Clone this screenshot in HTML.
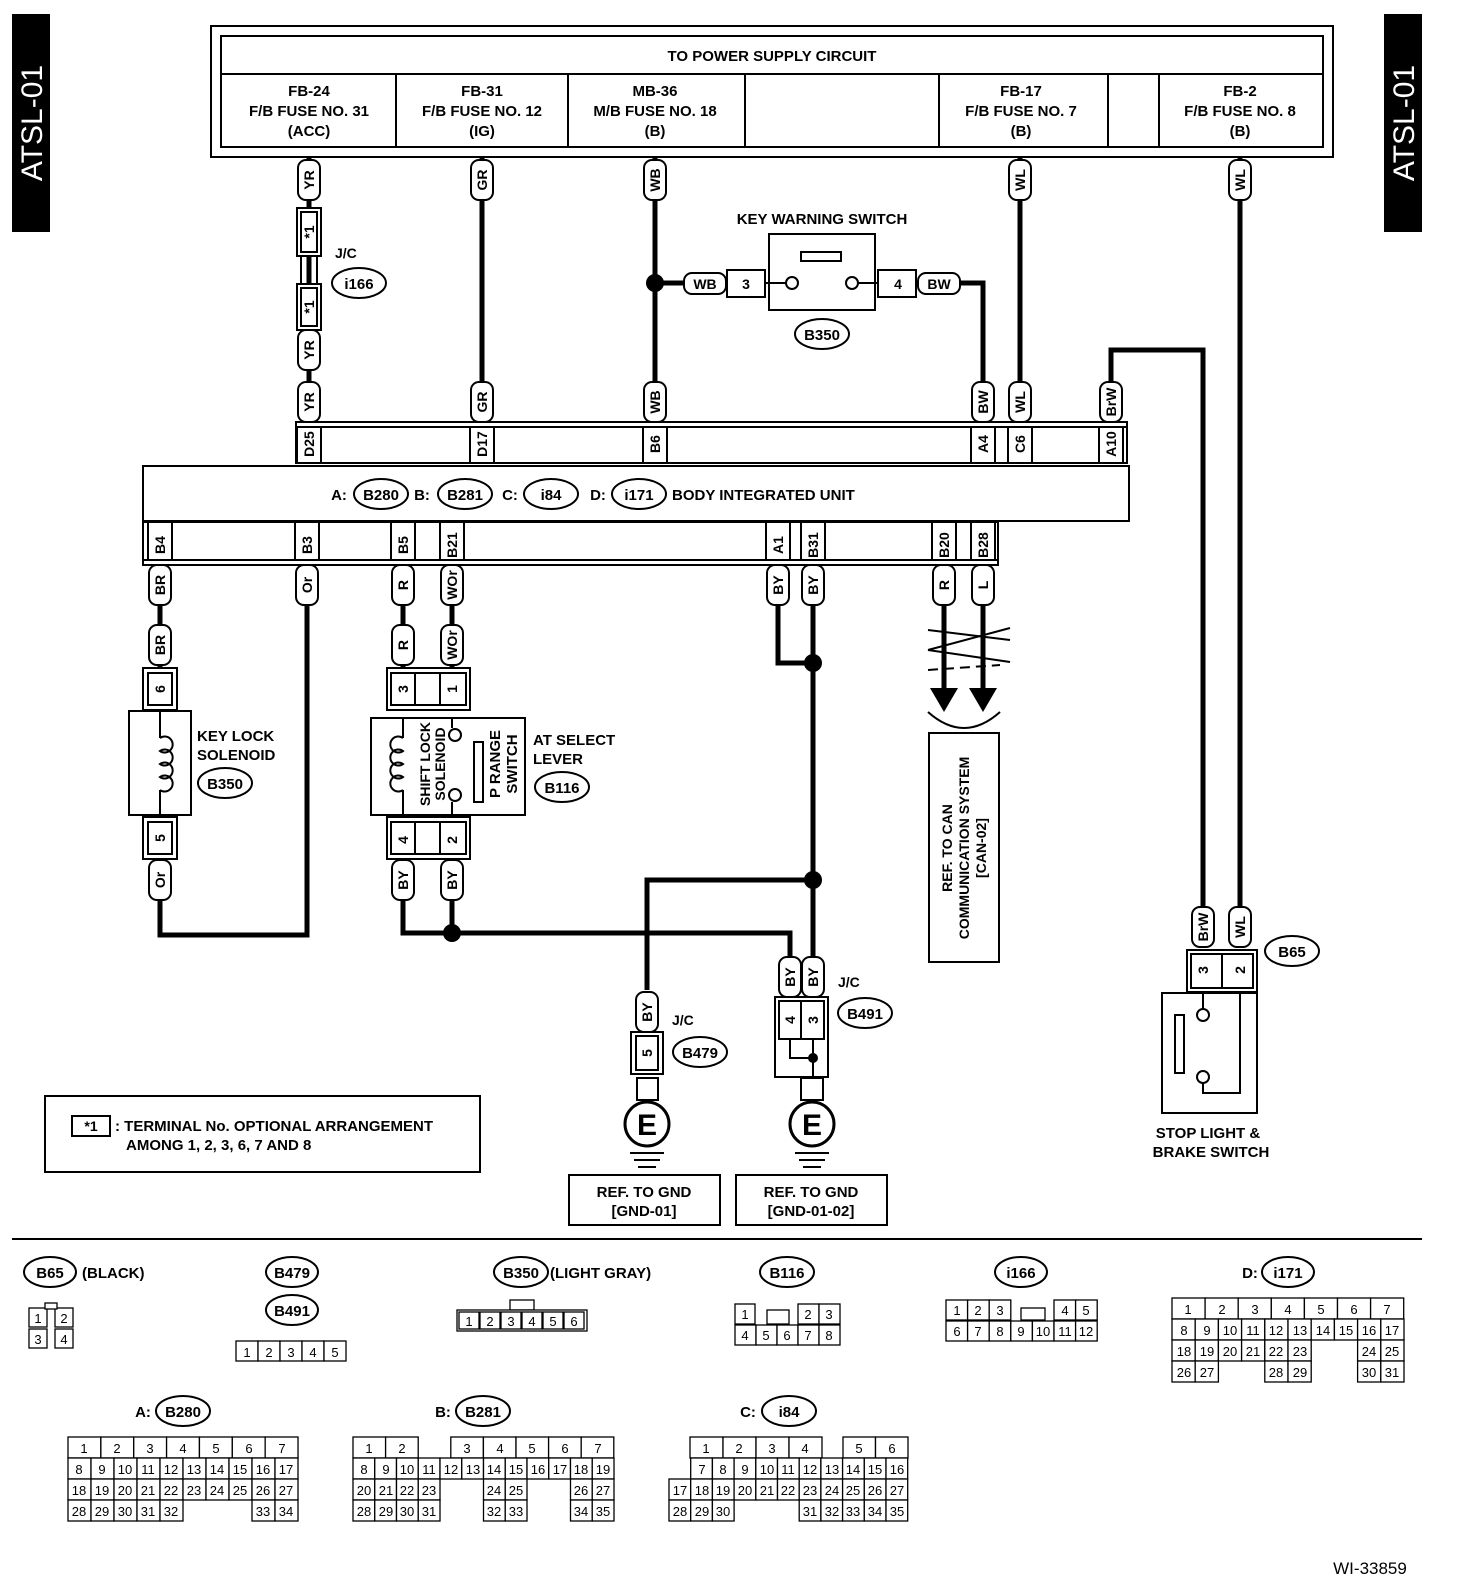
<!DOCTYPE html>
<html><head><meta charset="utf-8"><style>
html,body{margin:0;padding:0;background:#fff;overflow:hidden;width:1472px;height:1586px}
svg{display:block}
text{font-family:"Liberation Sans",sans-serif;font-weight:bold;fill:#000}
.t{font-size:15px;text-anchor:middle}
.s{font-size:14px;text-anchor:middle}
.c{font-size:13px;text-anchor:middle;font-weight:normal}
.b{fill:#fff;stroke:#000;stroke-width:2}
.w{fill:none;stroke:#000;stroke-width:5}
.l{fill:none;stroke:#000;stroke-width:2}
.cell{fill:#fff;stroke:#000;stroke-width:1.3}
</style></head><body>
<svg width="1472" height="1586" viewBox="0 0 1472 1586" xmlns="http://www.w3.org/2000/svg">
<defs>
<g id="tag"><rect x="-11" y="-20" width="22" height="40" rx="8" class="b"/></g>
</defs>
<!-- side tabs -->
<rect x="12" y="14" width="38" height="218" fill="#000"/>
<text transform="translate(42,123) rotate(-90)" style="font-size:30px;fill:#fff;text-anchor:middle;font-weight:normal">ATSL-01</text>
<rect x="1384" y="14" width="38" height="218" fill="#000"/>
<text transform="translate(1414,123) rotate(-90)" style="font-size:30px;fill:#fff;text-anchor:middle;font-weight:normal">ATSL-01</text>

<!-- power supply -->
<rect x="211" y="26" width="1122" height="131" class="b"/>
<rect x="221" y="36" width="1102" height="111" class="b"/>
<line x1="221" y1="74" x2="1323" y2="74" class="l"/>
<g class="l"><line x1="396" y1="74" x2="396" y2="147"/><line x1="568" y1="74" x2="568" y2="147"/><line x1="745" y1="74" x2="745" y2="147"/><line x1="939" y1="74" x2="939" y2="147"/><line x1="1108" y1="74" x2="1108" y2="147"/><line x1="1159" y1="74" x2="1159" y2="147"/></g>
<text x="772" y="61" class="t">TO POWER SUPPLY CIRCUIT</text>
<text x="309" y="96" class="t">FB-24</text><text x="309" y="116" class="t">F/B FUSE NO. 31</text><text x="309" y="136" class="t">(ACC)</text>
<text x="482" y="96" class="t">FB-31</text><text x="482" y="116" class="t">F/B FUSE NO. 12</text><text x="482" y="136" class="t">(IG)</text>
<text x="655" y="96" class="t">MB-36</text><text x="655" y="116" class="t">M/B FUSE NO. 18</text><text x="655" y="136" class="t">(B)</text>
<text x="1021" y="96" class="t">FB-17</text><text x="1021" y="116" class="t">F/B FUSE NO. 7</text><text x="1021" y="136" class="t">(B)</text>
<text x="1240" y="96" class="t">FB-2</text><text x="1240" y="116" class="t">F/B FUSE NO. 8</text><text x="1240" y="136" class="t">(B)</text>

<!-- wires top -->
<g class="w">
<line x1="309" y1="157" x2="309" y2="422"/>
<line x1="482" y1="157" x2="482" y2="422"/>
<line x1="655" y1="157" x2="655" y2="422"/>
<line x1="1020" y1="157" x2="1020" y2="422"/>
<polyline points="1240,157 1240,930"/>
<polyline points="1111,422 1111,350 1203,350 1203,930"/>
<line x1="655" y1="283" x2="690" y2="283"/>
<polyline points="950,283 983,283 983,422"/>
</g>
<circle cx="655" cy="283" r="9"/>
<!-- J/C i166 -->
<rect x="297" y="208" width="24" height="48" class="b"/><rect x="301" y="212" width="16" height="40" class="b"/>
<text transform="translate(314,232) rotate(-90)" class="s">*1</text>
<line x1="301" y1="256" x2="301" y2="284" class="l"/><line x1="317" y1="256" x2="317" y2="284" class="l"/>
<rect x="297" y="284" width="24" height="46" class="b"/><rect x="301" y="288" width="16" height="38" class="b"/>
<text transform="translate(314,307) rotate(-90)" class="s">*1</text>
<text x="335" y="258" class="s" style="text-anchor:start">J/C</text>
<ellipse cx="359" cy="283" rx="27" ry="15" class="b"/><text x="359" y="289" class="t">i166</text>

<!-- tags top -->
<g>
<use href="#tag" x="309" y="180"/><text transform="translate(314,180) rotate(-90)" class="s">YR</text>
<use href="#tag" x="482" y="180"/><text transform="translate(487,180) rotate(-90)" class="s">GR</text>
<use href="#tag" x="655" y="180"/><text transform="translate(660,180) rotate(-90)" class="s">WB</text>
<use href="#tag" x="1020" y="180"/><text transform="translate(1025,180) rotate(-90)" class="s">WL</text>
<use href="#tag" x="1240" y="180"/><text transform="translate(1245,180) rotate(-90)" class="s">WL</text>
<use href="#tag" x="309" y="350"/><text transform="translate(314,350) rotate(-90)" class="s">YR</text>
<use href="#tag" x="309" y="402"/><text transform="translate(314,402) rotate(-90)" class="s">YR</text>
<use href="#tag" x="482" y="402"/><text transform="translate(487,402) rotate(-90)" class="s">GR</text>
<use href="#tag" x="655" y="402"/><text transform="translate(660,402) rotate(-90)" class="s">WB</text>
<use href="#tag" x="983" y="402"/><text transform="translate(988,402) rotate(-90)" class="s">BW</text>
<use href="#tag" x="1020" y="402"/><text transform="translate(1025,402) rotate(-90)" class="s">WL</text>
<use href="#tag" x="1111" y="402"/><text transform="translate(1116,402) rotate(-90)" class="s">BrW</text>
</g>
<!-- key warning switch -->
<text x="822" y="224" class="t">KEY WARNING SWITCH</text>
<rect x="684" y="273" width="42" height="21" rx="8" class="b"/><text x="705" y="289" class="s">WB</text>
<rect x="727" y="270" width="38" height="27" class="b"/><text x="746" y="289" class="s">3</text>
<rect x="769" y="234" width="106" height="76" class="b"/>
<rect x="801" y="252" width="40" height="9" class="b"/>
<circle cx="792" cy="283" r="6" class="b"/><circle cx="852" cy="283" r="6" class="b"/>
<line x1="765" y1="283" x2="786" y2="283" class="l"/><line x1="858" y1="283" x2="878" y2="283" class="l"/>
<rect x="878" y="270" width="38" height="27" class="b"/><text x="898" y="289" class="s">4</text>
<rect x="918" y="273" width="42" height="21" rx="8" class="b"/><text x="939" y="289" class="s">BW</text>
<ellipse cx="822" cy="334" rx="27" ry="15" class="b"/><text x="822" y="340" class="t">B350</text>

<!-- BIU -->
<rect x="296" y="422" width="831" height="41" class="b"/>
<line x1="296" y1="427" x2="1127" y2="427" class="l"/>
<g class="l">
<line x1="297" y1="427" x2="297" y2="463"/><line x1="321" y1="427" x2="321" y2="463"/>
<line x1="470" y1="427" x2="470" y2="463"/><line x1="494" y1="427" x2="494" y2="463"/>
<line x1="643" y1="427" x2="643" y2="463"/><line x1="667" y1="427" x2="667" y2="463"/>
<line x1="971" y1="427" x2="971" y2="463"/><line x1="995" y1="427" x2="995" y2="463"/>
<line x1="1008" y1="427" x2="1008" y2="463"/><line x1="1032" y1="427" x2="1032" y2="463"/>
<line x1="1099" y1="427" x2="1099" y2="463"/><line x1="1123" y1="427" x2="1123" y2="463"/>
</g>
<text transform="translate(314,444) rotate(-90)" class="s">D25</text>
<text transform="translate(487,444) rotate(-90)" class="s">D17</text>
<text transform="translate(660,444) rotate(-90)" class="s">B6</text>
<text transform="translate(988,444) rotate(-90)" class="s">A4</text>
<text transform="translate(1025,444) rotate(-90)" class="s">C6</text>
<text transform="translate(1116,444) rotate(-90)" class="s">A10</text>
<rect x="143" y="466" width="986" height="55" class="b"/>
<text x="339" y="500" class="t">A:</text><ellipse cx="381" cy="494" rx="27" ry="15" class="b"/><text x="381" y="500" class="t">B280</text>
<text x="422" y="500" class="t">B:</text><ellipse cx="465" cy="494" rx="27" ry="15" class="b"/><text x="465" y="500" class="t">B281</text>
<text x="510" y="500" class="t">C:</text><ellipse cx="551" cy="494" rx="27" ry="15" class="b"/><text x="551" y="500" class="t">i84</text>
<text x="598" y="500" class="t">D:</text><ellipse cx="639" cy="494" rx="27" ry="15" class="b"/><text x="639" y="500" class="t">i171</text>
<text x="672" y="500" class="t" style="text-anchor:start">BODY INTEGRATED UNIT</text>
<rect x="143" y="522" width="855" height="43" class="b"/>
<line x1="143" y1="560" x2="998" y2="560" class="l"/>
<g class="l">
<line x1="148" y1="522" x2="148" y2="560"/><line x1="172" y1="522" x2="172" y2="560"/>
<line x1="295" y1="522" x2="295" y2="560"/><line x1="319" y1="522" x2="319" y2="560"/>
<line x1="391" y1="522" x2="391" y2="560"/><line x1="415" y1="522" x2="415" y2="560"/>
<line x1="440" y1="522" x2="440" y2="560"/><line x1="464" y1="522" x2="464" y2="560"/>
<line x1="766" y1="522" x2="766" y2="560"/><line x1="790" y1="522" x2="790" y2="560"/>
<line x1="801" y1="522" x2="801" y2="560"/><line x1="825" y1="522" x2="825" y2="560"/>
<line x1="932" y1="522" x2="932" y2="560"/><line x1="956" y1="522" x2="956" y2="560"/>
<line x1="971" y1="522" x2="971" y2="560"/><line x1="995" y1="522" x2="995" y2="560"/>
</g>
<text transform="translate(165,545) rotate(-90)" class="s">B4</text>
<text transform="translate(312,545) rotate(-90)" class="s">B3</text>
<text transform="translate(408,545) rotate(-90)" class="s">B5</text>
<text transform="translate(457,545) rotate(-90)" class="s">B21</text>
<text transform="translate(783,545) rotate(-90)" class="s">A1</text>
<text transform="translate(818,545) rotate(-90)" class="s">B31</text>
<text transform="translate(949,545) rotate(-90)" class="s">B20</text>
<text transform="translate(988,545) rotate(-90)" class="s">B28</text>

<!-- lower wires -->
<g class="w">
<line x1="160" y1="565" x2="160" y2="670"/>
<polyline points="160,858 160,935 307,935 307,565"/>
<line x1="403" y1="565" x2="403" y2="670"/>
<line x1="452" y1="565" x2="452" y2="670"/>
<polyline points="403,858 403,933 790,933 790,960"/>
<line x1="452" y1="858" x2="452" y2="933"/>
<polyline points="778,565 778,663 813,663"/>
<line x1="813" y1="565" x2="813" y2="960"/>
<polyline points="813,880 647,880 647,990"/>
<line x1="944" y1="565" x2="944" y2="690"/>
<line x1="983" y1="565" x2="983" y2="690"/>
</g>
<circle cx="452" cy="933" r="9"/><circle cx="813" cy="663" r="9"/><circle cx="813" cy="880" r="9"/>

<!-- lower tags -->
<g>
<use href="#tag" x="160" y="585"/><text transform="translate(165,585) rotate(-90)" class="s">BR</text>
<use href="#tag" x="307" y="585"/><text transform="translate(312,585) rotate(-90)" class="s">Or</text>
<use href="#tag" x="403" y="585"/><text transform="translate(408,585) rotate(-90)" class="s">R</text>
<use href="#tag" x="452" y="585"/><text transform="translate(457,585) rotate(-90)" class="s">WOr</text>
<use href="#tag" x="778" y="585"/><text transform="translate(783,585) rotate(-90)" class="s">BY</text>
<use href="#tag" x="813" y="585"/><text transform="translate(818,585) rotate(-90)" class="s">BY</text>
<use href="#tag" x="944" y="585"/><text transform="translate(949,585) rotate(-90)" class="s">R</text>
<use href="#tag" x="983" y="585"/><text transform="translate(988,585) rotate(-90)" class="s">L</text>
<use href="#tag" x="160" y="645"/><text transform="translate(165,645) rotate(-90)" class="s">BR</text>
<use href="#tag" x="403" y="645"/><text transform="translate(408,645) rotate(-90)" class="s">R</text>
<use href="#tag" x="452" y="645"/><text transform="translate(457,645) rotate(-90)" class="s">WOr</text>
<use href="#tag" x="160" y="880"/><text transform="translate(165,880) rotate(-90)" class="s">Or</text>
<use href="#tag" x="403" y="880"/><text transform="translate(408,880) rotate(-90)" class="s">BY</text>
<use href="#tag" x="452" y="880"/><text transform="translate(457,880) rotate(-90)" class="s">BY</text>
<use href="#tag" x="647" y="1012"/><text transform="translate(652,1012) rotate(-90)" class="s">BY</text>
<use href="#tag" x="790" y="977"/><text transform="translate(795,977) rotate(-90)" class="s">BY</text>
<use href="#tag" x="813" y="977"/><text transform="translate(818,977) rotate(-90)" class="s">BY</text>
<use href="#tag" x="1203" y="927"/><text transform="translate(1208,927) rotate(-90)" class="s">BrW</text>
<use href="#tag" x="1240" y="927"/><text transform="translate(1245,927) rotate(-90)" class="s">WL</text>
</g>

<!-- key lock solenoid -->
<rect x="143" y="668" width="34" height="42" class="b"/><rect x="148" y="673" width="24" height="32" class="b"/>
<text transform="translate(165,689) rotate(-90)" class="s">6</text>
<rect x="129" y="711" width="62" height="104" class="b"/>
<path d="M160,711 V738 M160,790 V815" class="l"/>
<path d="M160,738 a8,8 0 1 1 0,13 a8,8 0 1 1 0,13 a8,8 0 1 1 0,13 a8,8 0 1 1 0,13" class="l"/>
<rect x="143" y="817" width="34" height="42" class="b"/><rect x="148" y="822" width="24" height="32" class="b"/>
<text transform="translate(165,838) rotate(-90)" class="s">5</text>
<text x="197" y="741" class="t" style="text-anchor:start">KEY LOCK</text>
<text x="197" y="760" class="t" style="text-anchor:start">SOLENOID</text>
<ellipse cx="225" cy="783" rx="27" ry="15" class="b"/><text x="225" y="789" class="t">B350</text>

<!-- AT select lever -->
<rect x="387" y="668" width="83" height="42" class="b"/><rect x="391" y="673" width="75" height="32" class="b"/>
<line x1="415" y1="673" x2="415" y2="705" class="l"/><line x1="440" y1="673" x2="440" y2="705" class="l"/>
<text transform="translate(408,689) rotate(-90)" class="s">3</text><text transform="translate(457,689) rotate(-90)" class="s">1</text>
<rect x="371" y="718" width="154" height="97" class="b"/>
<path d="M403,718 V738 M403,790 V815" class="l"/>
<path d="M403,738 a8,8 0 1 0 0,13 a8,8 0 1 0 0,13 a8,8 0 1 0 0,13 a8,8 0 1 0 0,13" class="l"/>
<path d="M452,718 V728 M452,802 V815" class="l"/>
<circle cx="455" cy="735" r="6" class="b"/><circle cx="455" cy="795" r="6" class="b"/>
<rect x="474" y="742" width="9" height="60" class="b"/>
<text transform="translate(430,764) rotate(-90)" style="font-size:14px;text-anchor:middle">SHIFT LOCK</text>
<text transform="translate(445,764) rotate(-90)" style="font-size:14px;text-anchor:middle">SOLENOID</text>
<text transform="translate(500,764) rotate(-90)" style="font-size:15px;text-anchor:middle">P RANGE</text>
<text transform="translate(517,764) rotate(-90)" style="font-size:15px;text-anchor:middle">SWITCH</text>
<rect x="387" y="817" width="83" height="42" class="b"/><rect x="391" y="822" width="75" height="32" class="b"/>
<line x1="415" y1="822" x2="415" y2="854" class="l"/><line x1="440" y1="822" x2="440" y2="854" class="l"/>
<text transform="translate(408,840) rotate(-90)" class="s">4</text><text transform="translate(457,840) rotate(-90)" class="s">2</text>
<text x="533" y="745" class="t" style="text-anchor:start">AT SELECT</text>
<text x="533" y="764" class="t" style="text-anchor:start">LEVER</text>
<ellipse cx="562" cy="787" rx="27" ry="15" class="b"/><text x="562" y="793" class="t">B116</text>

<!-- CAN -->
<g class="l">
<line x1="928" y1="630" x2="1010" y2="640"/><line x1="928" y1="650" x2="1010" y2="628"/><line x1="928" y1="650" x2="1010" y2="662"/>
<line x1="928" y1="670" x2="1000" y2="665" stroke-dasharray="10,6"/>
<path d="M928,712 Q964,744 1000,712"/>
</g>
<polygon points="930,688 958,688 944,712"/><polygon points="969,688 997,688 983,712"/>
<rect x="929" y="733" width="70" height="229" class="b"/>
<text transform="translate(952,848) rotate(-90)" style="font-size:14px;text-anchor:middle">REF. TO CAN</text>
<text transform="translate(969,848) rotate(-90)" style="font-size:14px;text-anchor:middle">COMMUNICATION SYSTEM</text>
<text transform="translate(986,848) rotate(-90)" style="font-size:14px;text-anchor:middle">[CAN-02]</text>

<!-- B479 -->
<rect x="631" y="1032" width="32" height="42" class="b"/><rect x="636" y="1036" width="22" height="34" class="b"/>
<text transform="translate(652,1053) rotate(-90)" class="s">5</text>
<rect x="637" y="1078" width="21" height="22" class="b"/>
<line x1="647" y1="1100" x2="647" y2="1102" class="l"/>
<circle cx="647" cy="1124" r="22" class="b" style="stroke-width:3"/>
<text x="647" y="1135" style="font-size:30px;text-anchor:middle">E</text>
<g class="l"><line x1="630" y1="1153" x2="664" y2="1153"/><line x1="634" y1="1160" x2="660" y2="1160"/><line x1="638" y1="1167" x2="656" y2="1167"/></g>
<text x="672" y="1025" class="s" style="text-anchor:start">J/C</text>
<ellipse cx="700" cy="1052" rx="27" ry="15" class="b"/><text x="700" y="1058" class="t">B479</text>
<!-- B491 -->
<rect x="775" y="997" width="53" height="80" class="b"/>
<rect x="779" y="1001" width="45" height="38" class="b"/><line x1="801" y1="1001" x2="801" y2="1039" class="l"/>
<text transform="translate(795,1020) rotate(-90)" class="s">4</text><text transform="translate(818,1020) rotate(-90)" class="s">3</text>
<polyline points="790,1039 790,1058 813,1058" class="l"/><line x1="813" y1="1039" x2="813" y2="1078" class="l"/>
<circle cx="813" cy="1058" r="5"/>
<rect x="801" y="1078" width="22" height="22" class="b"/>
<circle cx="812" cy="1124" r="22" class="b" style="stroke-width:3"/>
<text x="812" y="1135" style="font-size:30px;text-anchor:middle">E</text>
<g class="l"><line x1="795" y1="1153" x2="829" y2="1153"/><line x1="799" y1="1160" x2="825" y2="1160"/><line x1="803" y1="1167" x2="821" y2="1167"/></g>
<text x="838" y="987" class="s" style="text-anchor:start">J/C</text>
<ellipse cx="865" cy="1013" rx="27" ry="15" class="b"/><text x="865" y="1019" class="t">B491</text>
<rect x="569" y="1175" width="151" height="50" class="b"/>
<text x="644" y="1197" class="t">REF. TO GND</text><text x="644" y="1216" class="t">[GND-01]</text>
<rect x="736" y="1175" width="151" height="50" class="b"/>
<text x="811" y="1197" class="t">REF. TO GND</text><text x="811" y="1216" class="t">[GND-01-02]</text>

<!-- stop light -->
<rect x="1187" y="950" width="70" height="42" class="b"/><rect x="1191" y="954" width="62" height="34" class="b"/>
<line x1="1222" y1="954" x2="1222" y2="988" class="l"/>
<text transform="translate(1208,970) rotate(-90)" class="s">3</text><text transform="translate(1245,970) rotate(-90)" class="s">2</text>
<rect x="1162" y="993" width="95" height="120" class="b"/>
<rect x="1175" y="1015" width="9" height="58" class="b"/>
<path d="M1203,993 V1010 M1240,993 V1093 H1203 V1082" class="l"/>
<circle cx="1203" cy="1015" r="6" class="b"/><circle cx="1203" cy="1077" r="6" class="b"/>
<ellipse cx="1292" cy="951" rx="27" ry="15" class="b"/><text x="1292" y="957" class="t">B65</text>
<text x="1208" y="1138" class="t">STOP LIGHT &amp;</text><text x="1211" y="1157" class="t">BRAKE SWITCH</text>

<!-- note -->
<rect x="45" y="1096" width="435" height="76" class="b"/>
<rect x="72" y="1116" width="38" height="20" class="b"/><text x="91" y="1131" class="s">*1</text>
<text x="115" y="1131" class="t" style="text-anchor:start">: TERMINAL No. OPTIONAL ARRANGEMENT</text>
<text x="126" y="1150" class="t" style="text-anchor:start">AMONG 1, 2, 3, 6, 7 AND 8</text>

<line x1="12" y1="1239" x2="1422" y2="1239" class="l"/>

<!-- connector legends -->
<ellipse cx="50" cy="1272" rx="26" ry="15" class="b"/><text x="50" y="1278" class="t">B65</text>
<text x="82" y="1278" class="t" style="text-anchor:start">(BLACK)</text>
<g>
<rect x="29" y="1308" width="18" height="19" class="cell"/><text x="38" y="1323" class="c">1</text>
<rect x="55" y="1308" width="18" height="19" class="cell"/><text x="64" y="1323" class="c">2</text>
<rect x="29" y="1329" width="18" height="19" class="cell"/><text x="38" y="1344" class="c">3</text>
<rect x="55" y="1329" width="18" height="19" class="cell"/><text x="64" y="1344" class="c">4</text>
<rect x="45" y="1303" width="12" height="6" class="cell"/>
</g>
<ellipse cx="292" cy="1272" rx="26" ry="15" class="b"/><text x="292" y="1278" class="t">B479</text>
<ellipse cx="292" cy="1310" rx="26" ry="15" class="b"/><text x="292" y="1316" class="t">B491</text>
<g>
<rect x="236" y="1341" width="22" height="20" class="cell"/><text x="247" y="1357" class="c">1</text>
<rect x="258" y="1341" width="22" height="20" class="cell"/><text x="269" y="1357" class="c">2</text>
<rect x="280" y="1341" width="22" height="20" class="cell"/><text x="291" y="1357" class="c">3</text>
<rect x="302" y="1341" width="22" height="20" class="cell"/><text x="313" y="1357" class="c">4</text>
<rect x="324" y="1341" width="22" height="20" class="cell"/><text x="335" y="1357" class="c">5</text>
</g>
<ellipse cx="521" cy="1272" rx="27" ry="15" class="b"/><text x="521" y="1278" class="t">B350</text>
<text x="550" y="1278" class="t" style="text-anchor:start">(LIGHT GRAY)</text>
<g>
<rect x="510" y="1300" width="24" height="10" class="cell"/>
<rect x="457" y="1310" width="130" height="21" class="cell"/>
<rect x="459" y="1312" width="20" height="17" class="cell"/><text x="469" y="1326" class="c">1</text>
<rect x="480" y="1312" width="20" height="17" class="cell"/><text x="490" y="1326" class="c">2</text>
<rect x="501" y="1312" width="20" height="17" class="cell"/><text x="511" y="1326" class="c">3</text>
<rect x="522" y="1312" width="20" height="17" class="cell"/><text x="532" y="1326" class="c">4</text>
<rect x="543" y="1312" width="20" height="17" class="cell"/><text x="553" y="1326" class="c">5</text>
<rect x="564" y="1312" width="20" height="17" class="cell"/><text x="574" y="1326" class="c">6</text>
</g>
<ellipse cx="787" cy="1272" rx="27" ry="15" class="b"/><text x="787" y="1278" class="t">B116</text>
<g>
<rect x="735" y="1304" width="20" height="20" class="cell"/><text x="745" y="1319" class="c">1</text>
<rect x="767" y="1310" width="22" height="14" class="cell"/>
<rect x="798" y="1304" width="21" height="20" class="cell"/><text x="808" y="1319" class="c">2</text>
<rect x="819" y="1304" width="21" height="20" class="cell"/><text x="829" y="1319" class="c">3</text>
<rect x="735" y="1325" width="21" height="20" class="cell"/><text x="745" y="1340" class="c">4</text>
<rect x="756" y="1325" width="21" height="20" class="cell"/><text x="766" y="1340" class="c">5</text>
<rect x="777" y="1325" width="21" height="20" class="cell"/><text x="787" y="1340" class="c">6</text>
<rect x="798" y="1325" width="21" height="20" class="cell"/><text x="808" y="1340" class="c">7</text>
<rect x="819" y="1325" width="21" height="20" class="cell"/><text x="829" y="1340" class="c">8</text>
</g>
<ellipse cx="1021" cy="1272" rx="26" ry="15" class="b"/><text x="1021" y="1278" class="t">i166</text>
<g>
<rect x="946" y="1300" width="21.6" height="20" class="cell"/><text x="957" y="1315" class="c">1</text>
<rect x="967.6" y="1300" width="21.6" height="20" class="cell"/><text x="978" y="1315" class="c">2</text>
<rect x="989.2" y="1300" width="21.6" height="20" class="cell"/><text x="1000" y="1315" class="c">3</text>
<rect x="1021" y="1308" width="24" height="12" class="cell"/>
<rect x="1054" y="1300" width="21.6" height="20" class="cell"/><text x="1065" y="1315" class="c">4</text>
<rect x="1075.6" y="1300" width="21.6" height="20" class="cell"/><text x="1086" y="1315" class="c">5</text>
<rect x="946" y="1321" width="21.6" height="20" class="cell"/><text x="957" y="1336" class="c">6</text>
<rect x="967.6" y="1321" width="21.6" height="20" class="cell"/><text x="978" y="1336" class="c">7</text>
<rect x="989.2" y="1321" width="21.6" height="20" class="cell"/><text x="1000" y="1336" class="c">8</text>
<rect x="1010.8" y="1321" width="21.6" height="20" class="cell"/><text x="1021" y="1336" class="c">9</text>
<rect x="1032.4" y="1321" width="21.6" height="20" class="cell"/><text x="1043" y="1336" class="c">10</text>
<rect x="1054" y="1321" width="21.6" height="20" class="cell"/><text x="1065" y="1336" class="c">11</text>
<rect x="1075.6" y="1321" width="21.6" height="20" class="cell"/><text x="1086" y="1336" class="c">12</text>
</g>
<text x="1250" y="1278" class="t">D:</text>
<ellipse cx="1288" cy="1272" rx="26" ry="15" class="b"/><text x="1288" y="1278" class="t">i171</text>
<g>
<rect x="1172" y="1298" width="33.1" height="21" class="cell"/><text x="1188" y="1314" class="c">1</text>
<rect x="1205.1" y="1298" width="33.1" height="21" class="cell"/><text x="1222" y="1314" class="c">2</text>
<rect x="1238.2" y="1298" width="33.1" height="21" class="cell"/><text x="1255" y="1314" class="c">3</text>
<rect x="1271.3" y="1298" width="33.1" height="21" class="cell"/><text x="1288" y="1314" class="c">4</text>
<rect x="1304.4" y="1298" width="33.1" height="21" class="cell"/><text x="1321" y="1314" class="c">5</text>
<rect x="1337.5" y="1298" width="33.1" height="21" class="cell"/><text x="1354" y="1314" class="c">6</text>
<rect x="1370.6" y="1298" width="33.1" height="21" class="cell"/><text x="1387" y="1314" class="c">7</text>
<rect x="1172" y="1319" width="23.2" height="21" class="cell"/><text x="1184" y="1335" class="c">8</text>
<rect x="1195.2" y="1319" width="23.2" height="21" class="cell"/><text x="1207" y="1335" class="c">9</text>
<rect x="1218.4" y="1319" width="23.2" height="21" class="cell"/><text x="1230" y="1335" class="c">10</text>
<rect x="1241.6" y="1319" width="23.2" height="21" class="cell"/><text x="1253" y="1335" class="c">11</text>
<rect x="1264.8" y="1319" width="23.2" height="21" class="cell"/><text x="1276" y="1335" class="c">12</text>
<rect x="1288" y="1319" width="23.2" height="21" class="cell"/><text x="1300" y="1335" class="c">13</text>
<rect x="1311.2" y="1319" width="23.2" height="21" class="cell"/><text x="1323" y="1335" class="c">14</text>
<rect x="1334.4" y="1319" width="23.2" height="21" class="cell"/><text x="1346" y="1335" class="c">15</text>
<rect x="1357.6" y="1319" width="23.2" height="21" class="cell"/><text x="1369" y="1335" class="c">16</text>
<rect x="1380.8" y="1319" width="23.2" height="21" class="cell"/><text x="1392" y="1335" class="c">17</text>
<rect x="1172" y="1340" width="23.2" height="21" class="cell"/><text x="1184" y="1356" class="c">18</text>
<rect x="1195.2" y="1340" width="23.2" height="21" class="cell"/><text x="1207" y="1356" class="c">19</text>
<rect x="1218.4" y="1340" width="23.2" height="21" class="cell"/><text x="1230" y="1356" class="c">20</text>
<rect x="1241.6" y="1340" width="23.2" height="21" class="cell"/><text x="1253" y="1356" class="c">21</text>
<rect x="1264.8" y="1340" width="23.2" height="21" class="cell"/><text x="1276" y="1356" class="c">22</text>
<rect x="1288" y="1340" width="23.2" height="21" class="cell"/><text x="1300" y="1356" class="c">23</text>
<rect x="1357.6" y="1340" width="23.2" height="21" class="cell"/><text x="1369" y="1356" class="c">24</text>
<rect x="1380.8" y="1340" width="23.2" height="21" class="cell"/><text x="1392" y="1356" class="c">25</text>
<rect x="1172" y="1361" width="23.2" height="21" class="cell"/><text x="1184" y="1377" class="c">26</text>
<rect x="1195.2" y="1361" width="23.2" height="21" class="cell"/><text x="1207" y="1377" class="c">27</text>
<rect x="1264.8" y="1361" width="23.2" height="21" class="cell"/><text x="1276" y="1377" class="c">28</text>
<rect x="1288" y="1361" width="23.2" height="21" class="cell"/><text x="1300" y="1377" class="c">29</text>
<rect x="1357.6" y="1361" width="23.2" height="21" class="cell"/><text x="1369" y="1377" class="c">30</text>
<rect x="1380.8" y="1361" width="23.2" height="21" class="cell"/><text x="1392" y="1377" class="c">31</text>
</g>

<!-- A: B280 -->
<text x="143" y="1417" class="t">A:</text>
<ellipse cx="183" cy="1411" rx="27" ry="15" class="b"/><text x="183" y="1417" class="t">B280</text>
<g>
<rect x="68" y="1437" width="32.86" height="21" class="cell"/><text x="84" y="1453" class="c">1</text>
<rect x="100.86" y="1437" width="32.86" height="21" class="cell"/><text x="117" y="1453" class="c">2</text>
<rect x="133.72" y="1437" width="32.86" height="21" class="cell"/><text x="150" y="1453" class="c">3</text>
<rect x="166.58" y="1437" width="32.86" height="21" class="cell"/><text x="183" y="1453" class="c">4</text>
<rect x="199.44" y="1437" width="32.86" height="21" class="cell"/><text x="216" y="1453" class="c">5</text>
<rect x="232.3" y="1437" width="32.86" height="21" class="cell"/><text x="249" y="1453" class="c">6</text>
<rect x="265.16" y="1437" width="32.86" height="21" class="cell"/><text x="282" y="1453" class="c">7</text>
<rect x="68" y="1458" width="23" height="21" class="cell"/><text x="79" y="1474" class="c">8</text>
<rect x="91" y="1458" width="23" height="21" class="cell"/><text x="102" y="1474" class="c">9</text>
<rect x="114" y="1458" width="23" height="21" class="cell"/><text x="125" y="1474" class="c">10</text>
<rect x="137" y="1458" width="23" height="21" class="cell"/><text x="148" y="1474" class="c">11</text>
<rect x="160" y="1458" width="23" height="21" class="cell"/><text x="171" y="1474" class="c">12</text>
<rect x="183" y="1458" width="23" height="21" class="cell"/><text x="194" y="1474" class="c">13</text>
<rect x="206" y="1458" width="23" height="21" class="cell"/><text x="217" y="1474" class="c">14</text>
<rect x="229" y="1458" width="23" height="21" class="cell"/><text x="240" y="1474" class="c">15</text>
<rect x="252" y="1458" width="23" height="21" class="cell"/><text x="263" y="1474" class="c">16</text>
<rect x="275" y="1458" width="23" height="21" class="cell"/><text x="286" y="1474" class="c">17</text>
<rect x="68" y="1479" width="23" height="21" class="cell"/><text x="79" y="1495" class="c">18</text>
<rect x="91" y="1479" width="23" height="21" class="cell"/><text x="102" y="1495" class="c">19</text>
<rect x="114" y="1479" width="23" height="21" class="cell"/><text x="125" y="1495" class="c">20</text>
<rect x="137" y="1479" width="23" height="21" class="cell"/><text x="148" y="1495" class="c">21</text>
<rect x="160" y="1479" width="23" height="21" class="cell"/><text x="171" y="1495" class="c">22</text>
<rect x="183" y="1479" width="23" height="21" class="cell"/><text x="194" y="1495" class="c">23</text>
<rect x="206" y="1479" width="23" height="21" class="cell"/><text x="217" y="1495" class="c">24</text>
<rect x="229" y="1479" width="23" height="21" class="cell"/><text x="240" y="1495" class="c">25</text>
<rect x="252" y="1479" width="23" height="21" class="cell"/><text x="263" y="1495" class="c">26</text>
<rect x="275" y="1479" width="23" height="21" class="cell"/><text x="286" y="1495" class="c">27</text>
<rect x="68" y="1500" width="23" height="21" class="cell"/><text x="79" y="1516" class="c">28</text>
<rect x="91" y="1500" width="23" height="21" class="cell"/><text x="102" y="1516" class="c">29</text>
<rect x="114" y="1500" width="23" height="21" class="cell"/><text x="125" y="1516" class="c">30</text>
<rect x="137" y="1500" width="23" height="21" class="cell"/><text x="148" y="1516" class="c">31</text>
<rect x="160" y="1500" width="23" height="21" class="cell"/><text x="171" y="1516" class="c">32</text>
<rect x="252" y="1500" width="23" height="21" class="cell"/><text x="263" y="1516" class="c">33</text>
<rect x="275" y="1500" width="23" height="21" class="cell"/><text x="286" y="1516" class="c">34</text>
</g>

<!-- B: B281 -->
<text x="443" y="1417" class="t">B:</text>
<ellipse cx="483" cy="1411" rx="27" ry="15" class="b"/><text x="483" y="1417" class="t">B281</text>
<g>
<rect x="353" y="1437" width="32.6" height="21" class="cell"/><text x="369" y="1453" class="c">1</text>
<rect x="385.6" y="1437" width="32.6" height="21" class="cell"/><text x="402" y="1453" class="c">2</text>
<rect x="450.8" y="1437" width="32.6" height="21" class="cell"/><text x="467" y="1453" class="c">3</text>
<rect x="483.4" y="1437" width="32.6" height="21" class="cell"/><text x="500" y="1453" class="c">4</text>
<rect x="516" y="1437" width="32.6" height="21" class="cell"/><text x="532" y="1453" class="c">5</text>
<rect x="548.6" y="1437" width="32.6" height="21" class="cell"/><text x="565" y="1453" class="c">6</text>
<rect x="581.2" y="1437" width="32.6" height="21" class="cell"/><text x="598" y="1453" class="c">7</text>
<rect x="353" y="1458" width="21.75" height="21" class="cell"/><text x="364" y="1474" class="c">8</text>
<rect x="374.75" y="1458" width="21.75" height="21" class="cell"/><text x="386" y="1474" class="c">9</text>
<rect x="396.5" y="1458" width="21.75" height="21" class="cell"/><text x="407" y="1474" class="c">10</text>
<rect x="418.25" y="1458" width="21.75" height="21" class="cell"/><text x="429" y="1474" class="c">11</text>
<rect x="440" y="1458" width="21.75" height="21" class="cell"/><text x="451" y="1474" class="c">12</text>
<rect x="461.75" y="1458" width="21.75" height="21" class="cell"/><text x="473" y="1474" class="c">13</text>
<rect x="483.5" y="1458" width="21.75" height="21" class="cell"/><text x="494" y="1474" class="c">14</text>
<rect x="505.25" y="1458" width="21.75" height="21" class="cell"/><text x="516" y="1474" class="c">15</text>
<rect x="527" y="1458" width="21.75" height="21" class="cell"/><text x="538" y="1474" class="c">16</text>
<rect x="548.75" y="1458" width="21.75" height="21" class="cell"/><text x="560" y="1474" class="c">17</text>
<rect x="570.5" y="1458" width="21.75" height="21" class="cell"/><text x="581" y="1474" class="c">18</text>
<rect x="592.25" y="1458" width="21.75" height="21" class="cell"/><text x="603" y="1474" class="c">19</text>
<rect x="353" y="1479" width="21.75" height="21" class="cell"/><text x="364" y="1495" class="c">20</text>
<rect x="374.75" y="1479" width="21.75" height="21" class="cell"/><text x="386" y="1495" class="c">21</text>
<rect x="396.5" y="1479" width="21.75" height="21" class="cell"/><text x="407" y="1495" class="c">22</text>
<rect x="418.25" y="1479" width="21.75" height="21" class="cell"/><text x="429" y="1495" class="c">23</text>
<rect x="483.5" y="1479" width="21.75" height="21" class="cell"/><text x="494" y="1495" class="c">24</text>
<rect x="505.25" y="1479" width="21.75" height="21" class="cell"/><text x="516" y="1495" class="c">25</text>
<rect x="570.5" y="1479" width="21.75" height="21" class="cell"/><text x="581" y="1495" class="c">26</text>
<rect x="592.25" y="1479" width="21.75" height="21" class="cell"/><text x="603" y="1495" class="c">27</text>
<rect x="353" y="1500" width="21.75" height="21" class="cell"/><text x="364" y="1516" class="c">28</text>
<rect x="374.75" y="1500" width="21.75" height="21" class="cell"/><text x="386" y="1516" class="c">29</text>
<rect x="396.5" y="1500" width="21.75" height="21" class="cell"/><text x="407" y="1516" class="c">30</text>
<rect x="418.25" y="1500" width="21.75" height="21" class="cell"/><text x="429" y="1516" class="c">31</text>
<rect x="483.5" y="1500" width="21.75" height="21" class="cell"/><text x="494" y="1516" class="c">32</text>
<rect x="505.25" y="1500" width="21.75" height="21" class="cell"/><text x="516" y="1516" class="c">33</text>
<rect x="570.5" y="1500" width="21.75" height="21" class="cell"/><text x="581" y="1516" class="c">34</text>
<rect x="592.25" y="1500" width="21.75" height="21" class="cell"/><text x="603" y="1516" class="c">35</text>
</g>

<!-- C: i84 -->
<text x="748" y="1417" class="t">C:</text>
<ellipse cx="789" cy="1411" rx="27" ry="15" class="b"/><text x="789" y="1417" class="t">i84</text>
<g>
<rect x="690" y="1437" width="33" height="21" class="cell"/><text x="706" y="1453" class="c">1</text>
<rect x="723" y="1437" width="33" height="21" class="cell"/><text x="739" y="1453" class="c">2</text>
<rect x="756" y="1437" width="33" height="21" class="cell"/><text x="772" y="1453" class="c">3</text>
<rect x="789" y="1437" width="33" height="21" class="cell"/><text x="805" y="1453" class="c">4</text>
<rect x="843" y="1437" width="32.5" height="21" class="cell"/><text x="859" y="1453" class="c">5</text>
<rect x="875.5" y="1437" width="32.5" height="21" class="cell"/><text x="892" y="1453" class="c">6</text>
<rect x="690.7" y="1458" width="21.7" height="21" class="cell"/><text x="702" y="1474" class="c">7</text>
<rect x="712.4" y="1458" width="21.7" height="21" class="cell"/><text x="723" y="1474" class="c">8</text>
<rect x="734.1" y="1458" width="21.7" height="21" class="cell"/><text x="745" y="1474" class="c">9</text>
<rect x="755.8" y="1458" width="21.7" height="21" class="cell"/><text x="767" y="1474" class="c">10</text>
<rect x="777.5" y="1458" width="21.7" height="21" class="cell"/><text x="788" y="1474" class="c">11</text>
<rect x="799.2" y="1458" width="21.7" height="21" class="cell"/><text x="810" y="1474" class="c">12</text>
<rect x="820.9" y="1458" width="21.7" height="21" class="cell"/><text x="832" y="1474" class="c">13</text>
<rect x="842.6" y="1458" width="21.7" height="21" class="cell"/><text x="853" y="1474" class="c">14</text>
<rect x="864.3" y="1458" width="21.7" height="21" class="cell"/><text x="875" y="1474" class="c">15</text>
<rect x="886" y="1458" width="21.7" height="21" class="cell"/><text x="897" y="1474" class="c">16</text>
<rect x="669" y="1479" width="21.7" height="21" class="cell"/><text x="680" y="1495" class="c">17</text>
<rect x="690.7" y="1479" width="21.7" height="21" class="cell"/><text x="702" y="1495" class="c">18</text>
<rect x="712.4" y="1479" width="21.7" height="21" class="cell"/><text x="723" y="1495" class="c">19</text>
<rect x="734.1" y="1479" width="21.7" height="21" class="cell"/><text x="745" y="1495" class="c">20</text>
<rect x="755.8" y="1479" width="21.7" height="21" class="cell"/><text x="767" y="1495" class="c">21</text>
<rect x="777.5" y="1479" width="21.7" height="21" class="cell"/><text x="788" y="1495" class="c">22</text>
<rect x="799.2" y="1479" width="21.7" height="21" class="cell"/><text x="810" y="1495" class="c">23</text>
<rect x="820.9" y="1479" width="21.7" height="21" class="cell"/><text x="832" y="1495" class="c">24</text>
<rect x="842.6" y="1479" width="21.7" height="21" class="cell"/><text x="853" y="1495" class="c">25</text>
<rect x="864.3" y="1479" width="21.7" height="21" class="cell"/><text x="875" y="1495" class="c">26</text>
<rect x="886" y="1479" width="21.7" height="21" class="cell"/><text x="897" y="1495" class="c">27</text>
<rect x="669" y="1500" width="21.7" height="21" class="cell"/><text x="680" y="1516" class="c">28</text>
<rect x="690.7" y="1500" width="21.7" height="21" class="cell"/><text x="702" y="1516" class="c">29</text>
<rect x="712.4" y="1500" width="21.7" height="21" class="cell"/><text x="723" y="1516" class="c">30</text>
<rect x="799.2" y="1500" width="21.7" height="21" class="cell"/><text x="810" y="1516" class="c">31</text>
<rect x="820.9" y="1500" width="21.7" height="21" class="cell"/><text x="832" y="1516" class="c">32</text>
<rect x="842.6" y="1500" width="21.7" height="21" class="cell"/><text x="853" y="1516" class="c">33</text>
<rect x="864.3" y="1500" width="21.7" height="21" class="cell"/><text x="875" y="1516" class="c">34</text>
<rect x="886" y="1500" width="21.7" height="21" class="cell"/><text x="897" y="1516" class="c">35</text>
</g>

<text x="1370" y="1574" style="font-size:17px;text-anchor:middle;font-weight:normal">WI-33859</text>
</svg>
</body></html>
